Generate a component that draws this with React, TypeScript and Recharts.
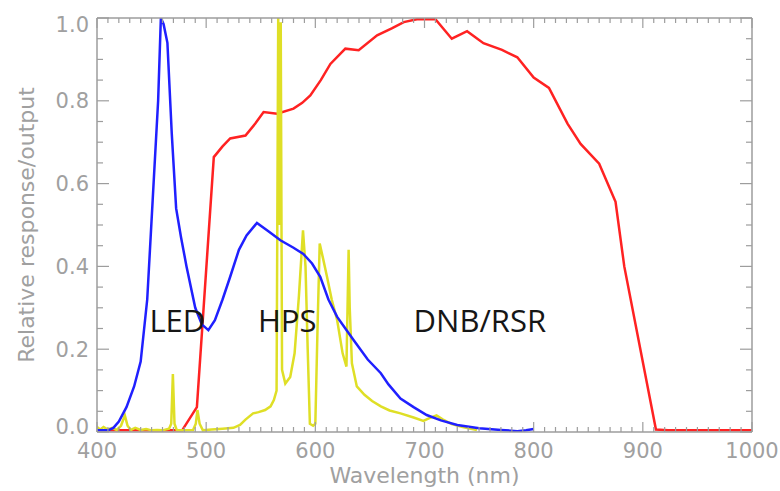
import React from "react";
import { ComposedChart, Line, Scatter, XAxis, YAxis } from "recharts";

// [wavelength nm, relative value]
const ledSpectrum: [number, number][] = [
  [400, 0.004], [410, 0.004], [415, 0.01], [420, 0.025], [427, 0.06], [434, 0.11],
  [440, 0.17], [446, 0.32], [451, 0.56], [456, 0.8], [458.5, 1.0], [461, 0.985],
  [464.5, 0.94], [468.5, 0.72], [472.5, 0.54], [477, 0.47], [482, 0.4],
  [490, 0.3], [496, 0.26], [502, 0.246], [508, 0.27], [515, 0.32], [522, 0.375],
  [530, 0.44], [537, 0.475], [546.5, 0.505], [557, 0.485], [568, 0.463],
  [580, 0.445], [589, 0.43], [597, 0.407], [604.5, 0.375], [612, 0.32],
  [620, 0.278], [628, 0.248], [635, 0.222], [648, 0.175], [660, 0.142],
  [667, 0.115], [678, 0.081], [690, 0.06], [702, 0.041], [715, 0.028],
  [730, 0.017], [750, 0.009], [770, 0.005], [785, 0.002], [793, 0.004], [800, 0.007],
];

const hpsSpectrum: [number, number][] = [
  [400, 0.012], [403, 0.006], [406, 0.012], [410, 0.006], [414, 0.01],
  [418, 0.005], [422, 0.015], [425.5, 0.04], [428, 0.015], [431, 0.005],
  [435, 0.01], [440, 0.005], [445, 0.007], [450, 0.004], [455, 0.005],
  [460, 0.004], [466, 0.008], [468, 0.02], [469.5, 0.14], [471, 0.02],
  [473, 0.005], [480, 0.004], [488, 0.005], [490.5, 0.02], [492, 0.053],
  [494, 0.02], [497, 0.004], [505, 0.006], [515, 0.008], [525, 0.01],
  [531, 0.017], [536, 0.03], [543, 0.045], [548, 0.048], [554, 0.053],
  [559, 0.062], [562, 0.077], [564.5, 0.1], [566, 1.0], [567, 0.5],
  [568.3, 0.99], [569.5, 0.15], [572.5, 0.117], [577, 0.133], [581, 0.19],
  [585, 0.33], [588.7, 0.487], [591, 0.4], [593, 0.2], [595, 0.02],
  [598, 0.015], [600, 0.02], [602, 0.25], [604, 0.455], [607, 0.42],
  [610.7, 0.375], [615, 0.32], [620, 0.27], [625, 0.19], [628.5, 0.158],
  [629.5, 0.3], [630.5, 0.44], [631.5, 0.3], [633.5, 0.166], [638, 0.11],
  [645, 0.09], [652, 0.075], [660, 0.062], [668, 0.052], [678, 0.045],
  [690, 0.035], [699, 0.027], [705, 0.034], [711, 0.04], [717, 0.03],
  [725, 0.019], [735, 0.012], [748, 0.005],
];

const dnbRsr: [number, number][] = [
  [400, 0.004], [440, 0.004], [478, 0.004], [491.5, 0.06], [507, 0.664], [515, 0.69],
  [522, 0.709], [536, 0.716], [545, 0.745], [552.6, 0.773], [565, 0.769],
  [580, 0.781], [588, 0.795], [595.4, 0.813], [605, 0.85], [613.8, 0.889],
  [627.5, 0.926], [639.7, 0.922], [656.6, 0.958], [670, 0.975], [681, 0.99],
  [693, 0.997], [710, 0.997], [725, 0.95], [739, 0.968], [754, 0.939],
  [771, 0.923], [785, 0.905], [800, 0.856], [814, 0.831], [831, 0.745],
  [843, 0.696], [860, 0.648], [875, 0.556], [883, 0.4], [912, 0.006],
  [923, 0.004], [960, 0.004], [1000, 0.004],
];

const xMajorTicks = [400, 500, 600, 700, 800, 900, 1000];
const yTickLabels = ["0.0", "0.2", "0.4", "0.6", "0.8", "1.0"];

const curveLabels = [
  { text: "LED", x: 448, y: 0.241 },
  { text: "HPS", x: 547.5, y: 0.241 },
  { text: "DNB/RSR", x: 690, y: 0.241 },
];

// minor ticks every 10 nm / 0.05
const xTicks = Array.from({ length: 61 }, (_, i) => 400 + i * 10);
const yTicks = Array.from({ length: 21 }, (_, i) => i / 20);

const FRAME = "#9d9d9d";
const TEXT = "#a0a0a0";
const AXIS_FONT = "DejaVu Sans";

const toRows = (pts: [number, number][]) => pts.map(([x, v]) => ({ x, v }));

const isMajorX = (v: number) => xMajorTicks.includes(v);
const isMajorY = (v: number) => Math.round(v * 20) % 4 === 0;

function BottomTick({ x, y, payload }: any) {
  const v = payload.value;
  const major = isMajorX(v);
  return (
    <g>
      <line x1={x} x2={x} y1={y} y2={y - (major ? 10 : 5)} stroke={FRAME} strokeWidth={1.2} />
      {major && (
        <text x={x} y={y + 26} textAnchor="middle" fontFamily={AXIS_FONT} fontSize={21} fill={TEXT}>
          {v}
        </text>
      )}
    </g>
  );
}

function TopTick({ x, y, payload }: any) {
  const major = isMajorX(payload.value);
  return <line x1={x} x2={x} y1={y} y2={y + (major ? 10 : 5)} stroke={FRAME} strokeWidth={1.2} />;
}

function LeftTick({ x, y, payload }: any) {
  const v = payload.value;
  const major = isMajorY(v);
  const idx = Math.round(v * 5);
  // IDL nudges the end labels inside the frame
  const shift = idx === 0 ? -6 : idx === 5 ? 6 : 0;
  return (
    <g>
      <line x1={x} x2={x + (major ? 12 : 6)} y1={y} y2={y} stroke={FRAME} strokeWidth={1.2} />
      {major && (
        <text x={x - 8} y={y + 7.5 + shift} textAnchor="end" fontFamily={AXIS_FONT} fontSize={21} fill={TEXT}>
          {yTickLabels[idx]}
        </text>
      )}
    </g>
  );
}

function RightTick({ x, y, payload }: any) {
  const major = isMajorY(payload.value);
  return <line x1={x} x2={x - (major ? 12 : 6)} y1={y} y2={y} stroke={FRAME} strokeWidth={1.2} />;
}

function CurveLabel({ cx, cy, payload }: any) {
  return (
    <text x={cx} y={cy} fontFamily="Open Sans" fontWeight={500} fontSize={31} fill="#161616">
      {payload.text}
    </text>
  );
}

export default function App() {
  return (
    <div style={{ position: "absolute", left: 0, top: 0, background: "#fff" }}>
      <ComposedChart width={780} height={491} margin={{ top: 0, right: 0, bottom: 0, left: 0 }}>
        <XAxis
          dataKey="x"
          type="number"
          domain={[400, 1000]}
          ticks={xTicks}
          interval={0}
          allowDataOverflow
          height={59}
          tickSize={0}
          tickMargin={0}
          tick={<BottomTick />}
          axisLine={{ stroke: FRAME, strokeWidth: 1.5 }}
          label={() => (
            <text x={424.5} y={483} textAnchor="middle" fontFamily={AXIS_FONT} fontSize={22} fill={TEXT}>
              Wavelength (nm)
            </text>
          )}
        />
        <XAxis
          xAxisId="top"
          orientation="top"
          dataKey="x"
          type="number"
          domain={[400, 1000]}
          ticks={xTicks}
          interval={0}
          allowDataOverflow
          height={18}
          tickSize={0}
          tickMargin={0}
          tick={<TopTick />}
          axisLine={{ stroke: FRAME, strokeWidth: 1.5 }}
        />
        <YAxis
          type="number"
          domain={[0, 1]}
          ticks={yTicks}
          interval={0}
          allowDataOverflow
          width={97}
          tickSize={0}
          tickMargin={0}
          tick={<LeftTick />}
          axisLine={{ stroke: FRAME, strokeWidth: 1.5 }}
          label={() => (
            <text
              x={0}
              y={0}
              transform="translate(34 225) rotate(-90)"
              textAnchor="middle"
              fontFamily={AXIS_FONT}
              fontSize={22}
              fill={TEXT}
            >
              Relative response/output
            </text>
          )}
        />
        <YAxis
          yAxisId="right"
          orientation="right"
          type="number"
          domain={[0, 1]}
          ticks={yTicks}
          interval={0}
          allowDataOverflow
          width={28}
          tickSize={0}
          tickMargin={0}
          tick={<RightTick />}
          axisLine={{ stroke: FRAME, strokeWidth: 1.5 }}
        />
        <Line
          data={toRows(dnbRsr)}
          dataKey="v"
          type="linear"
          stroke="#ff2222"
          strokeWidth={2.5}
          dot={false}
          isAnimationActive={false}
        />
        <Line
          data={toRows(hpsSpectrum)}
          dataKey="v"
          type="linear"
          stroke="#dfdf26"
          strokeWidth={2.5}
          dot={false}
          isAnimationActive={false}
        />
        <Line
          data={toRows(ledSpectrum)}
          dataKey="v"
          type="linear"
          stroke="#2020ff"
          strokeWidth={2.5}
          dot={false}
          isAnimationActive={false}
        />
        <Scatter data={curveLabels} dataKey="y" shape={<CurveLabel />} isAnimationActive={false} />
      </ComposedChart>
    </div>
  );
}
